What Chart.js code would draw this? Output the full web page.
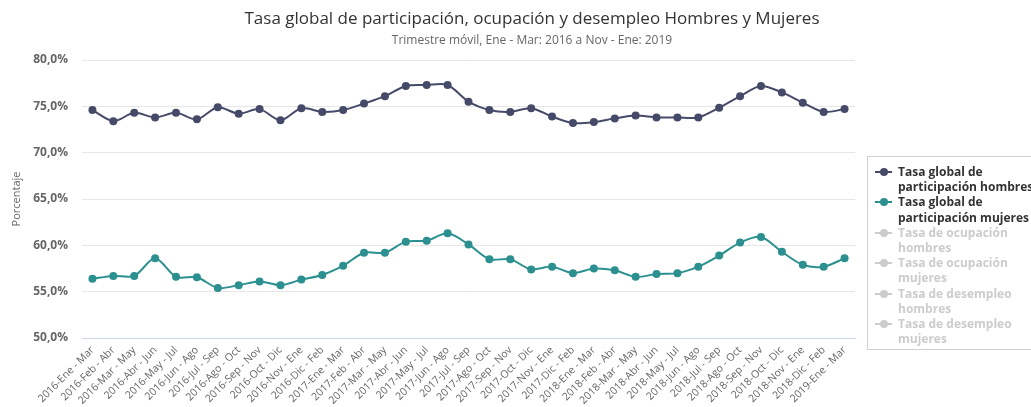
<!DOCTYPE html>
<html>
<head>
<meta charset="utf-8">
<script src="https://cdn.jsdelivr.net/npm/chart.js@4.4.1/dist/chart.umd.min.js"></script>
<style>
  body { margin:0; background:#fff; overflow:hidden; font-family:"Open Sans", sans-serif; }
  #wrap { position:relative; width:1031px; height:407px; }
  #title { position:absolute; left:0; width:1064px; top:6px; text-align:center; font-size:17px; color:#333; }
  #subtitle { position:absolute; left:0; width:1064px; top:31px; text-align:center; font-size:12px; color:#666; }
  #legend { position:absolute; left:867px; top:156px; width:180px; height:194px; border:1px solid #d0d0d0; box-sizing:border-box; }
  .item { position:relative; padding-left:30px; font-size:12px; font-weight:bold; line-height:15.2px; white-space:nowrap; }
  .sym { position:absolute; left:7px; top:7px; width:17px; height:2px; }
  .sym i { position:absolute; left:5px; top:-3px; width:8px; height:8px; border-radius:50%; }
</style>
</head>
<body>
<div id="wrap">
  <canvas id="myChart" width="1031" height="407"></canvas>
  <div id="title">Tasa global de participación, ocupación y desempleo Hombres y Mujeres</div>
  <div id="subtitle">Trimestre móvil, Ene - Mar: 2016 a Nov - Ene: 2019</div>
  <div id="legend"></div>
</div>
<script>
// categories
const periodos = [
  "2016-Ene - Mar","2016-Feb - Abr","2016-Mar - May","2016-Abr - Jun","2016-May - Jul","2016-Jun - Ago",
  "2016-Jul - Sep","2016-Ago - Oct","2016-Sep - Nov","2016-Oct - Dic","2016-Nov - Ene","2016-Dic - Feb",
  "2017-Ene - Mar","2017-Feb - Abr","2017-Mar - May","2017-Abr - Jun","2017-May - Jul","2017-Jun - Ago",
  "2017-Jul - Sep","2017-Ago - Oct","2017-Sep - Nov","2017-Oct - Dic","2017-Nov - Ene","2017-Dic - Feb",
  "2018-Ene - Mar","2018-Feb - Abr","2018-Mar - May","2018-Abr - Jun","2018-May - Jul","2018-Jun - Ago",
  "2018-Jul - Sep","2018-Ago - Oct","2018-Sep - Nov","2018-Oct - Dic","2018-Nov - Ene","2018-Dic - Feb",
  "2019-Ene - Mar"
];

// series (%)
const tgpHombres = [
  74.6,73.4,74.3,73.8,74.3,73.6,74.9,74.2,74.7,73.5,74.8,74.4,
  74.6,75.3,76.1,77.2,77.3,77.3,75.5,74.6,74.4,74.8,73.9,73.2,
  73.3,73.7,74.0,73.8,73.8,73.8,74.85,76.1,77.2,76.5,75.4,74.4,
  74.7
];
const tgpMujeres = [
  56.4,56.7,56.7,58.6,56.6,56.55,55.4,55.7,56.1,55.7,56.3,56.8,
  57.8,59.2,59.2,60.4,60.5,61.3,60.1,58.5,58.5,57.4,57.7,57.0,
  57.5,57.3,56.6,56.9,57.0,57.7,58.9,60.3,60.9,59.3,57.9,57.7,
  58.6
];

// legend entries
const seriesNames = [
  ["Tasa global de", "participación hombres"],
  ["Tasa global de", "participación mujeres"],
  ["Tasa de ocupación", "hombres"],
  ["Tasa de ocupación", "mujeres"],
  ["Tasa de desempleo", "hombres"],
  ["Tasa de desempleo", "mujeres"]
];
const seriesData = [tgpHombres, tgpMujeres, [], [], [], []];
const seriesColors = ["#464a69", "#2b908f", "#cccccc", "#cccccc", "#cccccc", "#cccccc"];
const seriesHidden = [false, false, true, true, true, true];

// y ticks
const yMin = 50, yMax = 80, yStep = 5;

const datasets = seriesNames.map(function(name, i){
  return {
    label: name.join(" "),
    data: seriesData[i],
    borderColor: seriesColors[i],
    backgroundColor: seriesColors[i],
    borderWidth: 2,
    pointRadius: 4,
    pointHoverRadius: 4,
    pointBorderWidth: 0,
    tension: 0.3,
    fill: false,
    hidden: seriesHidden[i]
  };
});

const grayText = "#666666";

var myChart = new Chart(document.getElementById("myChart").getContext("2d"), {
  type: 'line',
  data: { labels: periodos, datasets: datasets },
  options: {
    responsive: false,
    animation: false,
    layout: { padding: { top: 60, right: 176, left: 0, bottom: 0 } },
    plugins: {
      legend: { display: false },
      title: { display: false },
      tooltip: { enabled: false }
    },
    scales: {
      x: {
        offset: true,
        grid: { display: false, drawTicks: false },
        border: { display: true, color: "#ccd6eb" },
        ticks: {
          autoSkip: false,
          minRotation: 45,
          maxRotation: 45,
          padding: 6,
          color: grayText,
          font: { family: "Open Sans", size: 10.5 }
        },
        afterFit: function(scale){ scale.height = 69; }
      },
      y: {
        min: yMin,
        max: yMax,
        grid: { color: "#e6e6e6", drawTicks: false },
        border: { display: false },
        ticks: {
          stepSize: yStep,
          padding: 14,
          color: grayText,
          font: { family: "Open Sans", size: 12, weight: "bold" },
          callback: function(v){ return v.toFixed(1).replace(".", ",") + "%"; }
        },
        title: {
          display: true,
          text: "Porcentaje",
          color: grayText,
          padding: { top: 10, bottom: 0 },
          font: { family: "Open Sans", size: 11 }
        },
        afterFit: function(scale){ scale.width = 82; }
      }
    }
  }
});

// html legend built from the datasets
const legendBox = document.getElementById("legend");
let html = "";
myChart.data.datasets.forEach(function(ds, i){
  const col = seriesHidden[i] ? "#cccccc" : seriesColors[i];
  const txt = seriesHidden[i] ? "#cccccc" : "#333333";
  html += `<div class="item" style="color:${txt}">
    <span class="sym" style="background:${col}"><i style="background:${col}"></i></span>
    ${seriesNames[i][0]}<br>${seriesNames[i][1]}</div>`;
});
legendBox.innerHTML = html;
legendBox.style.paddingTop = "7px";
</script>
</body>
</html>
